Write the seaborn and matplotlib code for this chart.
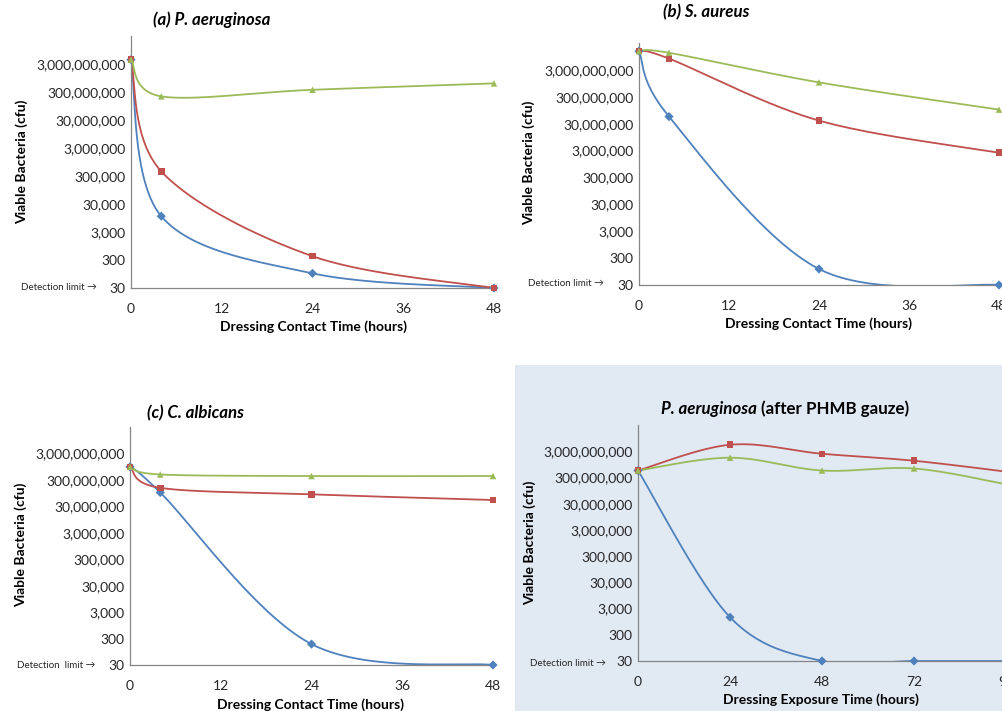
import numpy as np
import pandas as pd
import seaborn as sns
import matplotlib.pyplot as plt
from matplotlib.patches import Rectangle
from matplotlib.ticker import FuncFormatter, FixedLocator, NullLocator

sns.set_style('white')
plt.rcParams['font.family'] = ['Lato', 'DejaVu Sans']

# ---- data (cfu) ----
hours = [0, 4, 24, 48]
hours_d = [0, 24, 48, 72, 96]

a_blue = [4.3e9, 1.1e4, 100, 30]
a_red = [4.3e9, 4.4e5, 410, 30]
a_green = [4.3e9, 2.1e8, 3.6e8, 6.1e8]

b_blue = [1.5e10, 5.5e7, 118, 30]
b_red = [1.5e10, 7.9e9, 3.9e7, 2.5e6]
b_green = [1.5e10, 1.3e10, 1.03e9, 1.0e8]

c_blue = [9.3e8, 1.0e8, 185, 30]
c_red = [9.3e8, 1.5e8, 8.5e7, 5.2e7]
c_green = [9.3e8, 4.8e8, 4.2e8, 4.2e8]

d_blue = [5.5e8, 1.4e3, 30, 30, 30]
d_red = [5.5e8, 5.3e9, 2.4e9, 1.3e9, 5.0e8]
d_green = [5.5e8, 1.7e9, 5.5e8, 6.6e8, 1.65e8]

series = ['Series 1', 'Series 2', 'Series 3']
colors = {'Series 1': '#4F81BD', 'Series 2': '#C0504D', 'Series 3': '#9BBB59'}
markers = {'Series 1': 'D', 'Series 2': 's', 'Series 3': '^'}
yticks = [30, 300, 3000, 30000, 3e5, 3e6, 3e7, 3e8, 3e9]

W, H = 1003, 711
GREY = '#868686'
TXT = '#262626'


def fx(x):
    return x / W


def fy(y):
    return 1 - y / H


def smooth(x, y, n=60):
    # Excel-like smoothed line: cubic Bezier through the points (log-y space)
    x = np.asarray(x, float)
    ly = np.log10(np.asarray(y, float))
    P = np.column_stack([x, ly])
    P = np.vstack([P[0], P, P[-1]])
    t = np.linspace(0, 1, n)[:, None]
    out = []
    for j in range(1, len(P) - 2):
        p0, p3 = P[j], P[j + 1]
        c1 = p0 + (P[j + 1] - P[j - 1]) / 6
        c2 = p3 - (P[j + 2] - P[j]) / 6
        seg = ((1 - t) ** 3) * p0 + 3 * ((1 - t) ** 2) * t * c1 + 3 * (1 - t) * t ** 2 * c2 + t ** 3 * p3
        out.append(seg)
    out = np.vstack(out)
    return out[:, 0], 10 ** out[:, 1]


def panel(rect_px, t, vals, xticks, xmax):
    l, top, r, bot = rect_px
    ax = fig.add_axes([fx(l), fy(bot), fx(r - l), (bot - top) / H])
    ax.set_facecolor('none')
    df = pd.DataFrame({'time': np.tile(t, len(series)),
                       'cfu': np.concatenate(vals),
                       'series': np.repeat(series, len(t))})
    for s, v in zip(series, vals):
        xs, ys = smooth(t, v)
        ax.plot(xs, ys, color=colors[s], lw=1.3, zorder=2)
    sns.scatterplot(data=df, x='time', y='cfu', hue='series', style='series',
                    palette=colors, markers=markers, s=22, edgecolor='none',
                    legend=False, ax=ax, zorder=3, clip_on=False)
    ax.set_yscale('log')
    ax.set_ylim(30, 3e10)
    ax.set_xlim(0, xmax)
    ax.yaxis.set_major_locator(FixedLocator(yticks))
    ax.yaxis.set_minor_locator(NullLocator())
    ax.yaxis.set_major_formatter(FuncFormatter(lambda v, p: f'{v:,.0f}'))
    ax.set_xticks(xticks)
    ax.set_xlabel('')
    ax.set_ylabel('')
    for side in ['top', 'right']:
        ax.spines[side].set_visible(False)
    for side in ['left', 'bottom']:
        ax.spines[side].set_color(GREY)
        ax.spines[side].set_linewidth(0.9)
    ax.tick_params(axis='both', direction='out', length=3.5, width=0.8, color=GREY,
                   labelcolor=TXT, labelsize=10)
    ax.tick_params(axis='y', pad=0.5)
    ax.tick_params(axis='x', pad=7)
    return ax


fig = plt.figure(figsize=(W / 100, H / 100), dpi=100)
fig.patches.append(Rectangle((fx(515), 0), 1 - fx(515), fy(365), transform=fig.transFigure,
                             facecolor='#E1E9F3', edgecolor='none', zorder=-1))

axa = panel((131, 36, 494, 288), np.array(hours), [a_blue, a_red, a_green], [0, 12, 24, 36, 48], 48)
axb = panel((639, 43, 999, 285), np.array(hours), [b_blue, b_red, b_green], [0, 12, 24, 36, 48], 48)
axc = panel((130, 427, 493, 665), np.array(hours), [c_blue, c_red, c_green], [0, 12, 24, 36, 48], 48)
axd = panel((638, 425, 1006, 661), np.array(hours_d), [d_blue, d_red, d_green], [0, 24, 48, 72, 96], 96)

bold = dict(fontweight='bold', color='black')
tsize = 12.2
# titles
fig.text(fx(212), fy(20), '(a) P. aeruginosa', ha='center', va='center', size=tsize, style='italic', **bold)
fig.text(fx(706), fy(12), '(b) S. aureus', ha='center', va='center', size=tsize, style='italic', **bold)
fig.text(fx(196), fy(413), '(c) C. albicans', ha='center', va='center', size=tsize, style='italic', **bold)
fig.text(fx(757), fy(409), 'P. aeruginosa', ha='right', va='center', size=tsize, style='italic', **bold)
fig.text(fx(761), fy(409), '(after PHMB gauze)', ha='left', va='center', size=tsize, **bold)

# axis labels
for x, y, s in [(313, 327, 'Dressing Contact Time (hours)'), (819, 324, 'Dressing Contact Time (hours)'),
                (311, 705, 'Dressing Contact Time (hours)'), (821, 700, 'Dressing Exposure Time (hours)')]:
    fig.text(fx(x), fy(y), s, ha='center', va='center', size=10, **bold)
for x, y in [(22, 162), (529, 163), (21, 545), (530, 543)]:
    fig.text(fx(x), fy(y), 'Viable Bacteria (cfu)', ha='center', va='center', rotation=90, size=10, **bold)

# detection limit notes
for x, y, s in [(97, 288, 'Detection limit \u2192'), (604, 284, 'Detection limit \u2192'),
                (95, 665, 'Detection  limit \u2192'), (606, 663, 'Detection limit \u2192')]:
    fig.text(fx(x), fy(y), s, ha='right', va='center', size=7, color=TXT)

fig.savefig('out.png', dpi=100)
